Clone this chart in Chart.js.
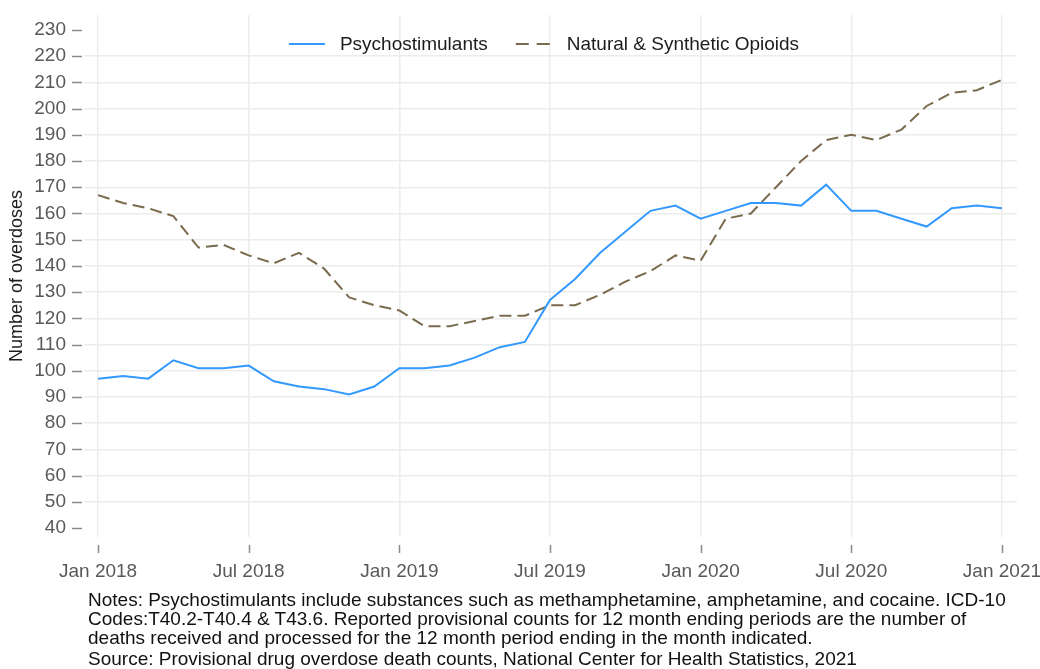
<!DOCTYPE html>
<html>
<head>
<meta charset="utf-8">
<script src="https://cdn.jsdelivr.net/npm/chart.js@4"></script>
<style>
  html, body { margin: 0; padding: 0; background: #fff; }
  #wrap { position: relative; width: 1040px; height: 669px; }
  #notes {
    position: absolute; left: 88px; top: 590px;
    font: 19px "Liberation Sans", Arial, sans-serif; line-height: 19px; color: #111;
    white-space: nowrap;
  }
  #notes .src { display: block; margin-top: 2px; }
</style>
</head>
<body>
<div id="wrap">
  <canvas id="chart" width="1040" height="669"></canvas>
  <div id="notes">
    Notes: Psychostimulants include substances such as methamphetamine, amphetamine, and cocaine. ICD-10<br>
    Codes:T40.2-T40.4 &amp; T43.6. Reported provisional counts for 12 month ending periods are the number of<br>
    deaths received and processed for the 12 month period ending in the month indicated.
    <span class="src">Source: Provisional drug overdose death counts, National Center for Health Statistics, 2021</span>
  </div>
</div>
<script>
// Data (12 month ending provisional counts, Jan 2018 - Jan 2021)
const months = [
  'Jan 2018', 'Feb 2018', 'Mar 2018', 'Apr 2018', 'May 2018', 'Jun 2018',
  'Jul 2018', 'Aug 2018', 'Sep 2018', 'Oct 2018', 'Nov 2018', 'Dec 2018',
  'Jan 2019', 'Feb 2019', 'Mar 2019', 'Apr 2019', 'May 2019', 'Jun 2019',
  'Jul 2019', 'Aug 2019', 'Sep 2019', 'Oct 2019', 'Nov 2019', 'Dec 2019',
  'Jan 2020', 'Feb 2020', 'Mar 2020', 'Apr 2020', 'May 2020', 'Jun 2020',
  'Jul 2020', 'Aug 2020', 'Sep 2020', 'Oct 2020', 'Nov 2020', 'Dec 2020',
  'Jan 2021'
];
const psychostimulants = [
  97, 98, 97, 104, 101, 101, 102, 96, 94, 93, 91, 94,
  101, 101, 102, 105, 109, 111, 127, 135, 145, 153, 161, 163,
  158, 161, 164, 164, 163, 171, 161, 161, 158, 155, 162, 163,
  162
];
const opioids = [
  167, 164, 162, 159, 147, 148, 144, 141, 145, 139, 128, 125,
  123, 117, 117, 119, 121, 121, 125, 125, 129, 134, 138, 144,
  142, 158, 160, 170, 180, 188, 190, 188, 192, 201, 206, 207,
  211
];
const seriesNames = ['Psychostimulants', 'Natural & Synthetic Opioids'];
const xTickPos = [0, 6, 12, 18, 24, 30, 36];
const xTickLabels = ['Jan 2018', 'Jul 2018', 'Jan 2019', 'Jul 2019', 'Jan 2020', 'Jul 2020', 'Jan 2021'];
const yTicks = [40, 50, 60, 70, 80, 90, 100, 110, 120, 130, 140, 150, 160, 170, 180, 190, 200, 210, 220, 230];

const FONT = '"Liberation Sans", Arial, sans-serif';
const GRID = '#ececec';
const TICKCOL = '#595959';

// tick marks (x: detached below plot, y: short dash after label) + legend inside plot
const decorations = {
  id: 'decorations',
  afterDraw(chart) {
    const ctx = chart.ctx;
    const xs = chart.scales.x, ys = chart.scales.y;
    const area = chart.chartArea;
    ctx.save();
    ctx.strokeStyle = '#8a8a8a';
    ctx.lineWidth = 1.5;
    xs.ticks.forEach(t => {
      const px = Math.round(xs.getPixelForValue(t.value)) + 0.5;
      ctx.beginPath();
      ctx.moveTo(px, area.bottom + 8);
      ctx.lineTo(px, area.bottom + 16);
      ctx.stroke();
    });
    ys.ticks.forEach(t => {
      const py = Math.round(ys.getPixelForValue(t.value)) + 0.5;
      ctx.beginPath();
      ctx.moveTo(area.left - 12, py);
      ctx.lineTo(area.left - 2, py);
      ctx.stroke();
    });

    // legend
    ctx.font = '19px ' + FONT;
    ctx.textBaseline = 'middle';
    const ly = 44, lineW = 36, gap = 15, itemGap = 28, center = 544;
    const ds = chart.data.datasets;
    const widths = ds.map(d => lineW + gap + ctx.measureText(d.label).width);
    let x = center - (widths.reduce((a, b) => a + b, 0) + itemGap * (ds.length - 1)) / 2;
    ds.forEach((d, i) => {
      ctx.strokeStyle = d.borderColor;
      ctx.lineWidth = d.borderWidth;
      ctx.setLineDash(d.borderDash ? [13, 8] : []);
      ctx.beginPath();
      ctx.moveTo(x, ly);
      ctx.lineTo(x + lineW, ly);
      ctx.stroke();
      ctx.setLineDash([]);
      ctx.fillStyle = '#1c1c1c';
      ctx.fillText(d.label, x + lineW + gap, ly + 1);
      x += widths[i] + itemGap;
    });
    ctx.restore();
  }
};

new Chart(document.getElementById('chart'), {
  type: 'line',
  data: {
    datasets: [
      {
        label: seriesNames[0],
        data: psychostimulants.map((v, i) => ({ x: i, y: v })),
        borderColor: '#3399ff',
        borderWidth: 2,
        pointRadius: 0,
        tension: 0,
        fill: false
      },
      {
        label: seriesNames[1],
        data: opioids.map((v, i) => ({ x: i, y: v })),
        borderColor: '#7a6a4e',
        borderWidth: 2,
        borderDash: [12, 6],
        pointRadius: 0,
        tension: 0,
        fill: false
      }
    ]
  },
  options: {
    responsive: false,
    animation: false,
    layout: { padding: { left: 0, top: 15, right: 23, bottom: 0 } },
    plugins: {
      legend: { display: false },
      tooltip: { enabled: false }
    },
    scales: {
      x: {
        type: 'linear',
        min: -0.56,
        max: 36.6,
        afterBuildTicks: (scale) => { scale.ticks = xTickPos.map(v => ({ value: v })); },
        afterFit: (scale) => {
          scale.height = 132;
          scale.paddingLeft = 0;
          scale.paddingRight = 0;
        },
        border: { display: false },
        grid: { color: GRID, lineWidth: 1.5, drawTicks: false },
        ticks: {
          padding: 23,
          color: TICKCOL,
          font: { family: FONT, size: 19 },
          maxRotation: 0,
          callback: (v) => xTickLabels[xTickPos.indexOf(v)]
        }
      },
      y: {
        min: 36.6,
        max: 235.7,
        afterBuildTicks: (scale) => { scale.ticks = yTicks.map(v => ({ value: v })); },
        afterFit: (scale) => {
          scale.width = 84;
          scale.paddingTop = 0;
          scale.paddingBottom = 0;
        },
        border: { display: false },
        grid: {
          drawTicks: false,
          lineWidth: 1.5,
          color: (c) => (c.tick && (c.tick.value === 40 || c.tick.value === 230)) ? 'rgba(0,0,0,0)' : GRID
        },
        ticks: {
          padding: 18,
          color: TICKCOL,
          font: { family: FONT, size: 19 }
        },
        title: {
          display: true,
          text: 'Number of overdoses',
          color: '#1c1c1c',
          font: { family: FONT, size: 18 },
          padding: { top: 6, bottom: 0 }
        }
      }
    }
  },
  plugins: [decorations]
});
</script>
</body>
</html>
